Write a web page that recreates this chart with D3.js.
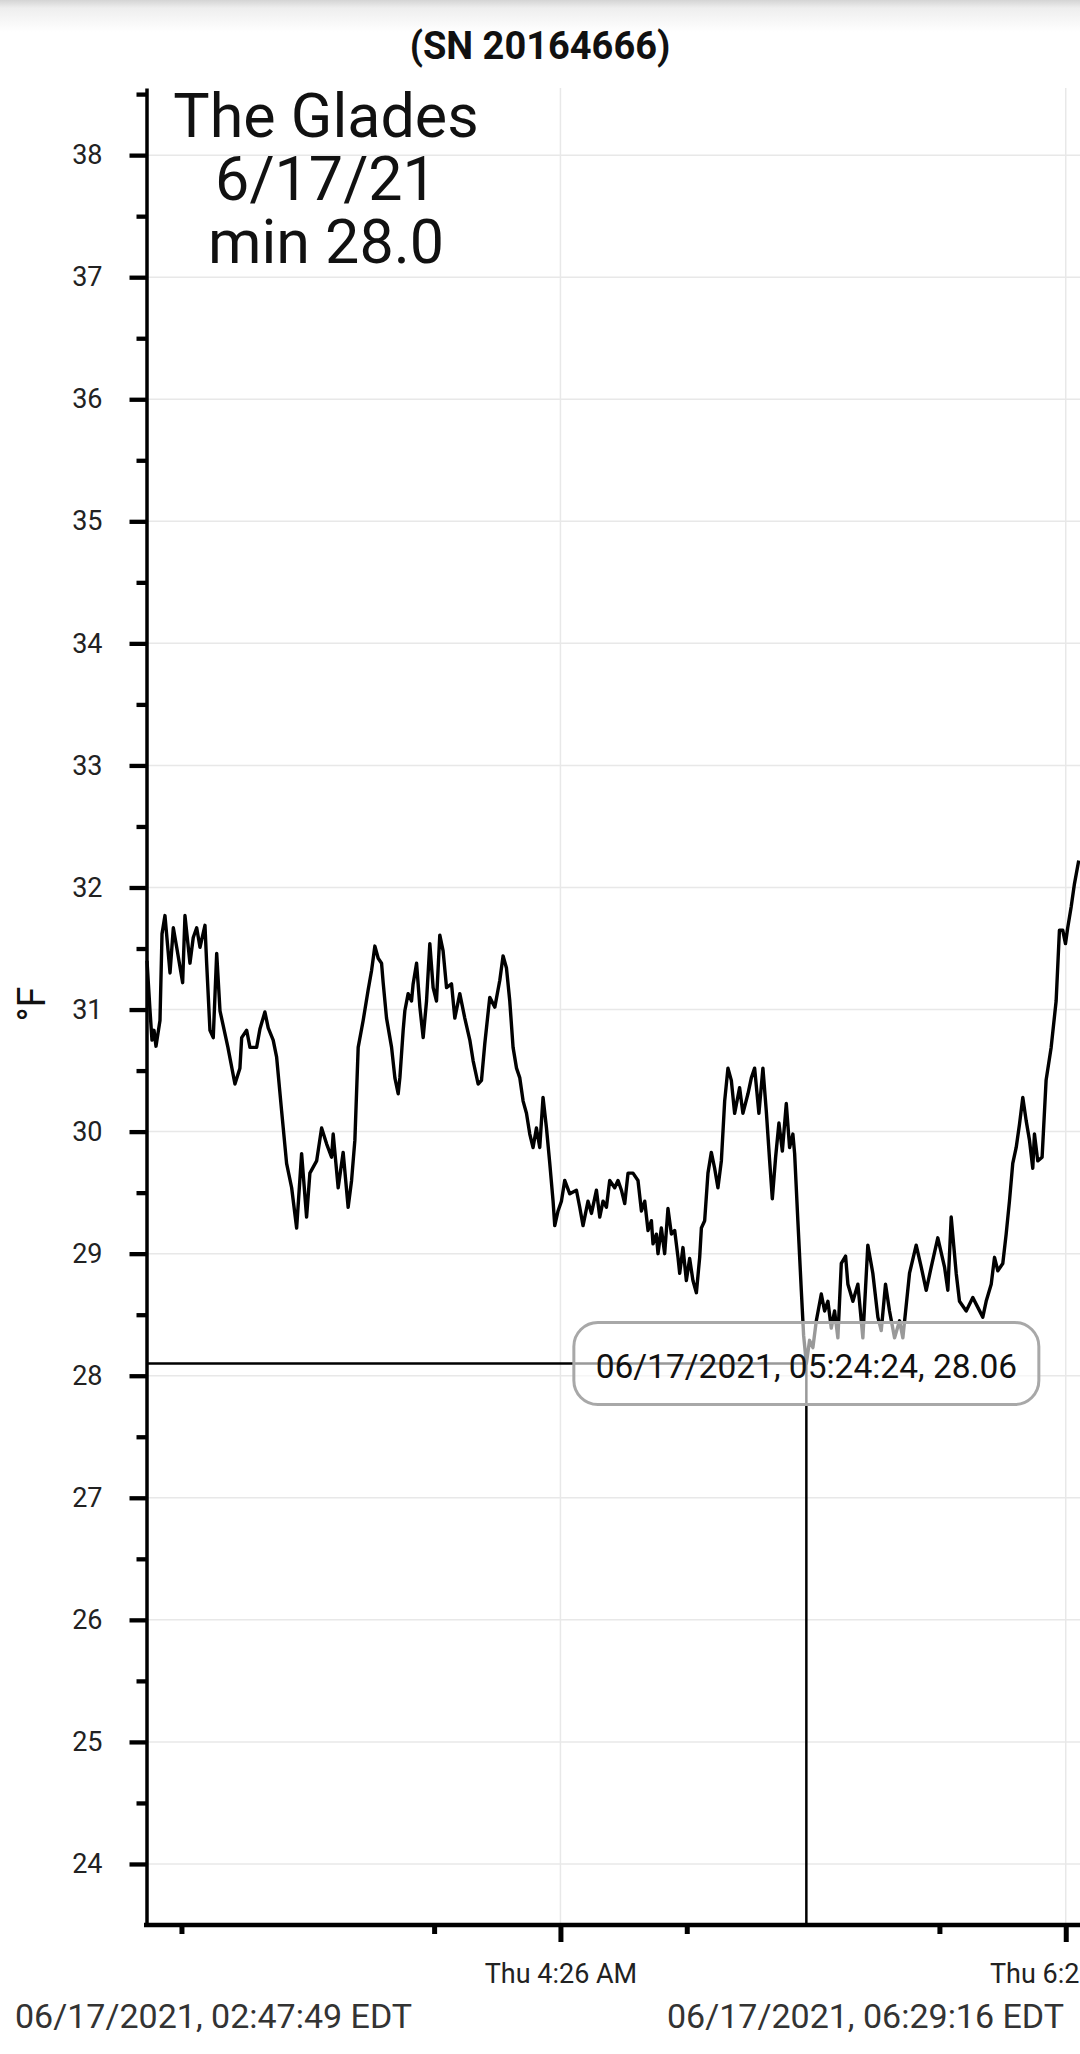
<!DOCTYPE html>
<html><head><meta charset="utf-8">
<script src="https://cdn.jsdelivr.net/npm/d3@7"></script>
<style>
html,body{margin:0;padding:0;background:#fff;}
svg{display:block;font-family:Roboto,"Noto Sans",sans-serif;}
</style>
</head><body>
<svg id="chart" width="1080" height="2054"></svg>
<script>
// ---------------- data ----------------
const day = "2021-06-17";
const times = [
"02:47:49","02:48:32","02:49:00","02:49:29","02:49:57","02:50:54","02:51:23","02:52:05","02:53:17","02:54:04",
"02:54:52","02:56:17","02:56:50","02:58:01","02:58:48","02:59:37","03:00:24","03:01:35","03:01:59","03:02:46",
"03:03:33","03:04:22","03:05:09","03:07:02","03:08:42","03:09:53","03:10:18","03:11:29","03:12:16","03:13:51",
"03:14:38","03:15:49","03:16:36","03:17:47","03:18:36","03:19:47","03:20:58","03:22:10","03:23:21","03:24:32",
"03:25:43","03:26:30","03:28:06","03:29:17","03:30:28","03:31:39","03:32:02","03:33:13","03:34:24","03:35:35",
"03:36:24","03:37:11","03:37:58","03:39:09","03:40:20","03:41:09","03:41:56","03:42:43","03:43:31","03:43:54",
"03:44:42","03:45:54","03:46:41","03:47:28","03:47:52","03:48:39","03:49:03","03:49:50","03:50:38","03:51:01",
"03:51:50","03:52:37","03:53:24","03:54:12","03:54:59","03:55:46","03:56:34","03:57:21","03:58:08","03:58:57",
"04:00:08","04:00:55","04:02:06","04:03:17","04:04:29","04:05:16","04:06:27","04:07:15","04:08:02","04:09:13",
"04:10:25","04:11:36","04:12:23","04:13:11","04:13:58","04:14:45","04:15:34","04:16:21","04:17:08","04:17:56",
"04:18:43","04:19:30","04:20:18","04:21:05","04:21:52","04:22:41","04:23:28","04:24:15","04:24:39","04:25:26",
"04:26:14","04:27:01","04:28:13","04:29:48","04:30:35","04:31:22","04:32:33","04:33:22","04:34:33","04:35:20",
"04:36:07","04:36:55","04:37:42","04:38:53","04:39:40","04:40:29","04:41:16","04:42:03","04:43:14","04:44:25",
"04:45:14","04:46:01","04:46:48","04:47:36","04:47:59","04:48:47","04:49:10","04:49:58","04:50:45","04:51:32",
"04:52:21","04:53:08","04:53:55","04:54:19","04:55:06","04:55:54","04:56:41","04:57:28","04:58:17","04:59:04",
"04:59:28","05:00:15","05:01:02","05:01:50","05:02:37","05:03:24","05:04:13","05:05:00","05:05:47","05:06:35",
"05:07:22","05:08:33","05:09:20","05:10:32","05:11:20","05:12:07","05:13:08","05:14:05","05:14:53","05:15:41",
"05:16:19","05:17:06","05:17:53","05:18:42","05:19:38","05:20:25","05:21:12","05:21:37","05:22:23","05:23:12",
"05:23:45","05:24:24","05:25:10","05:25:57","05:26:46","05:27:57","05:28:44","05:29:31","05:30:19","05:31:06",
"05:31:53","05:32:42","05:33:43","05:34:16","05:35:27","05:36:38","05:37:49","05:39:00","05:40:11","05:41:23",
"05:42:11","05:43:12","05:44:09","05:45:21","05:46:32","05:47:19","05:48:54","05:50:29","05:51:41","05:52:52",
"05:54:03","05:55:37","05:57:13","05:58:00","05:58:48","05:59:59","06:00:46","06:02:22","06:03:56","06:05:07",
"06:06:18","06:07:06","06:08:18","06:09:05","06:09:52","06:11:03","06:11:51","06:12:38","06:13:25","06:14:14",
"06:15:01","06:15:48","06:16:36","06:17:23","06:18:10","06:18:34","06:19:21","06:20:23","06:21:20","06:22:32",
"06:23:43","06:24:30","06:25:17","06:25:56","06:26:28","06:27:17","06:28:04","06:29:05"
];
const temps = [
31.40,30.99,30.75,30.83,30.70,30.91,31.62,31.77,31.30,31.67,
31.51,31.22,31.77,31.38,31.59,31.67,31.51,31.69,31.38,30.83,
30.77,31.46,30.99,30.69,30.39,30.52,30.77,30.83,30.69,30.69,
30.84,30.98,30.85,30.75,30.61,30.17,29.74,29.54,29.21,29.82,
29.30,29.66,29.76,30.03,29.90,29.79,29.98,29.54,29.83,29.38,
29.60,29.93,30.69,30.91,31.16,31.32,31.52,31.42,31.38,31.22,
30.93,30.69,30.44,30.31,30.44,30.83,30.99,31.13,31.07,31.21,
31.38,31.02,30.77,31.07,31.54,31.18,31.07,31.61,31.48,31.18,
31.21,30.93,31.13,30.93,30.75,30.58,30.39,30.42,30.72,31.10,
31.02,31.24,31.44,31.34,31.07,30.69,30.52,30.44,30.25,30.15,
29.98,29.87,30.03,29.87,30.28,30.03,29.74,29.43,29.23,29.35,
29.43,29.60,29.49,29.52,29.38,29.23,29.43,29.33,29.52,29.30,
29.43,29.38,29.60,29.54,29.60,29.52,29.41,29.66,29.66,29.60,
29.35,29.43,29.19,29.27,29.08,29.16,29.00,29.21,29.00,29.37,
29.16,29.19,28.97,28.84,29.05,28.78,28.96,28.78,28.68,28.97,
29.21,29.27,29.66,29.83,29.70,29.54,29.76,30.25,30.52,30.42,
30.15,30.36,30.15,30.31,30.44,30.52,30.15,30.52,30.17,29.76,
29.45,29.79,30.07,29.84,30.23,29.87,29.98,29.82,29.27,28.70,
28.33,28.10,28.29,28.23,28.45,28.67,28.53,28.61,28.39,28.53,
28.31,28.92,28.98,28.75,28.61,28.75,28.31,29.07,28.84,28.48,
28.37,28.75,28.53,28.31,28.45,28.31,28.84,29.07,28.89,28.70,
28.89,29.13,28.89,28.70,29.30,28.84,28.61,28.53,28.64,28.56,
28.48,28.61,28.75,28.97,28.86,28.92,29.16,29.43,29.74,29.87,
30.06,30.28,30.09,29.93,29.70,29.98,29.76,29.79,30.42,30.69,
31.07,31.65,31.65,31.54,31.67,31.84,32.03,32.22
];
const yTickValues = [24,25,26,27,28,29,30,31,32,33,34,35,36,37,38];
const yMinorTickValues = [24.5,25.5,26.5,27.5,28.5,29.5,30.5,31.5,32.5,33.5,34.5,35.5,36.5,37.5,38.5];
const yDomain = [23.5, 38.55];
const xMajorTicks = ["04:26:00","06:26:00"];
const xMinorTicks = ["02:56:00","03:56:00","04:56:00","05:56:00"];
const rangeStart = "02:47:49";
const rangeEnd = "06:29:16";
const cursorTime = "05:24:24";
const cursorValue = 28.06;
const titleText = "(SN 20164666)";
const noteLines = ["The Glades","6/17/21","min 28.0"];
const unitLabel = "°F";
const tzLabel = "EDT";

// ---------------- chart ----------------
const parse = d3.timeParse("%Y-%m-%d %H:%M:%S");
const toDate = s => parse(day + " " + s);
const series = times.map((t,i) => ({t: toDate(t), v: temps[i]}));

const svg = d3.select("#chart");
const W = 1080;
const plot = {left:147, right:1079.5, top:88, bottom:1925};

const x = d3.scaleTime().domain([toDate(rangeStart), toDate(rangeEnd)]).range([plot.left, plot.right]);
const y = d3.scaleLinear().domain(yDomain).range([plot.bottom, plot.top]);

// top shadow band
const defs = svg.append("defs");
const grad = defs.append("linearGradient").attr("id","shade").attr("x1",0).attr("y1",0).attr("x2",0).attr("y2",1);
grad.append("stop").attr("offset","0%").attr("stop-color","#d4d4d4");
grad.append("stop").attr("offset","25%").attr("stop-color","#eeeeee");
grad.append("stop").attr("offset","100%").attr("stop-color","#ffffff");
svg.append("rect").attr("x",0).attr("y",0).attr("width",W).attr("height",32).attr("fill","url(#shade)");

// grid
svg.append("g").selectAll("line").data(yTickValues).join("line")
  .attr("x1",plot.left).attr("x2",W).attr("y1",d=>y(d)).attr("y2",d=>y(d))
  .attr("stroke","#e8e8e8").attr("stroke-width",1.5);
svg.append("g").selectAll("line").data(xMajorTicks.map(toDate)).join("line")
  .attr("x1",d=>x(d)).attr("x2",d=>x(d)).attr("y1",plot.top).attr("y2",plot.bottom)
  .attr("stroke","#e8e8e8").attr("stroke-width",1.5);

// title
svg.append("text").attr("x",540).attr("y",59).attr("text-anchor","middle")
  .attr("font-size",38).attr("font-weight","bold").attr("fill","#111").text(titleText);

// data line
const line = d3.line().x(d=>x(d.t)).y(d=>y(d.v));
svg.append("path").datum(series).attr("d",line)
  .attr("fill","none").attr("stroke","#000").attr("stroke-width",3.4).attr("stroke-linejoin","round");

// crosshair
const cDate = toDate(cursorTime);
const bis = d3.bisector(d=>d.t).center;
const cp = series[bis(series, cDate)];
const cx = x(cDate), cy = y(cp.v);
svg.append("line").attr("x1",plot.left).attr("x2",cx).attr("y1",cy).attr("y2",cy)
  .attr("stroke","#000").attr("stroke-width",2.5);
svg.append("line").attr("x1",cx).attr("x2",cx).attr("y1",cy).attr("y2",plot.bottom)
  .attr("stroke","#000").attr("stroke-width",2.5);

// axes
const yAxis = svg.append("g").attr("transform","translate(146.5,0)")
  .call(d3.axisLeft(y).tickValues(yTickValues).tickSize(17).tickSizeOuter(0).tickPadding(27).tickFormat(d3.format("d")));
yAxis.select(".domain").attr("stroke","#000").attr("stroke-width",3.5);
yAxis.selectAll(".tick line").attr("stroke","#000").attr("stroke-width",4.3);
yAxis.selectAll(".tick text").attr("font-size",27).attr("fill","#222").attr("font-family","Roboto");
const yMinor = svg.append("g").attr("transform","translate(146.5,0)")
  .call(d3.axisLeft(y).tickValues(yMinorTickValues).tickSize(10).tickSizeOuter(0).tickFormat(""));
yMinor.select(".domain").remove();
yMinor.selectAll(".tick line").attr("stroke","#000").attr("stroke-width",4.3);

const xAxis = svg.append("g").attr("transform",`translate(0,${plot.bottom})`)
  .call(d3.axisBottom(x).tickValues(xMajorTicks.map(toDate)).tickSize(17).tickSizeOuter(0).tickPadding(22)
    .tickFormat(d3.timeFormat("%a %-I:%M %p")));
xAxis.select(".domain").attr("stroke","#000").attr("stroke-width",4.5).attr("d",`M144,0H${W}`);
xAxis.selectAll(".tick line").attr("stroke","#000").attr("stroke-width",5);
xAxis.selectAll(".tick text").attr("font-size",27).attr("fill","#222").attr("font-family","Roboto");
const xMinor = svg.append("g").attr("transform",`translate(0,${plot.bottom})`)
  .call(d3.axisBottom(x).tickValues(xMinorTicks.map(toDate)).tickSize(9).tickSizeOuter(0).tickFormat(""));
xMinor.select(".domain").remove();
xMinor.selectAll(".tick line").attr("stroke","#000").attr("stroke-width",5);

// y unit label
svg.append("text").attr("transform","translate(45,1004) rotate(-90)").attr("text-anchor","middle")
  .attr("font-size",38).attr("fill","#111").text(unitLabel);

// annotation
svg.append("g").selectAll("text").data(noteLines).join("text")
  .attr("x",326).attr("y",(d,i)=>137+i*63).attr("text-anchor","middle")
  .attr("font-size",61).attr("fill","#111").text(d=>d);

// tooltip box
const fmtFull = d3.timeFormat("%m/%d/%Y, %H:%M:%S");
const bw = 465, bh = 82;
svg.append("rect").attr("x",cx-bw/2).attr("y",cy-bh/2).attr("width",bw).attr("height",bh)
  .attr("rx",24).attr("ry",24).attr("fill","#fff").attr("fill-opacity",0.6)
  .attr("stroke","#a8a8a8").attr("stroke-width",3);
svg.append("text").attr("x",cx).attr("y",cy+14).attr("text-anchor","middle")
  .attr("font-size",33.5).attr("fill","#111")
  .text(fmtFull(cDate) + ", " + cursorValue.toFixed(2));

// range labels
svg.append("text").attr("x",15).attr("y",2028).attr("font-size",34).attr("fill","#333")
  .text(fmtFull(toDate(rangeStart)) + " " + tzLabel);
svg.append("text").attr("x",1064).attr("y",2028).attr("text-anchor","end").attr("font-size",34).attr("fill","#333")
  .text(fmtFull(toDate(rangeEnd)) + " " + tzLabel);
</script>
</body></html>
